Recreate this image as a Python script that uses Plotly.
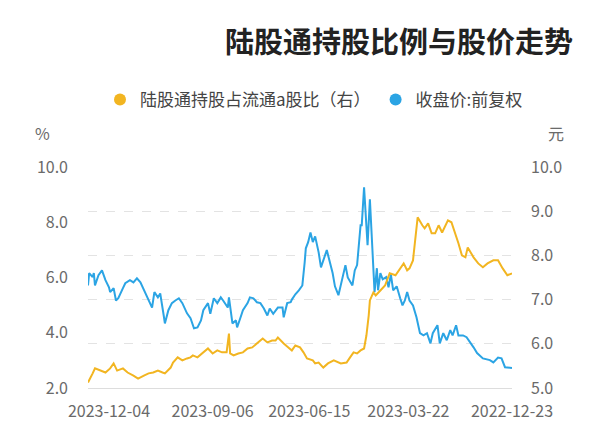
import plotly.graph_objects as go

title_text = "陆股通持股比例与股价走势"
price_name = "收盘价:前复权"
share_name = "陆股通持股占流通a股比（右）"

tick_dates = ["2022-12-23", "2023-03-22", "2023-06-15", "2023-09-06", "2023-12-04"]

price_dates = [
    "2022-12-23", "2022-12-29", "2023-01-01", "2023-01-04", "2023-01-08", "2023-01-11", "2023-01-17",
    "2023-01-22", "2023-01-25", "2023-01-31", "2023-02-03", "2023-02-07", "2023-02-09", "2023-02-12",
    "2023-02-14", "2023-02-17", "2023-02-20", "2023-02-23", "2023-02-25", "2023-03-01", "2023-03-03",
    "2023-03-06", "2023-03-09", "2023-03-12", "2023-03-15", "2023-03-18", "2023-03-21", "2023-03-23",
    "2023-03-25", "2023-03-27", "2023-03-29", "2023-04-01", "2023-04-04", "2023-04-06", "2023-04-08",
    "2023-04-10", "2023-04-13", "2023-04-15", "2023-04-17", "2023-04-18", "2023-04-20", "2023-04-21",
    "2023-04-24", "2023-04-26", "2023-04-29", "2023-05-01", "2023-05-02", "2023-05-05", "2023-05-07",
    "2023-05-09", "2023-05-13", "2023-05-15", "2023-05-18", "2023-05-21", "2023-05-24", "2023-05-26",
    "2023-05-31", "2023-06-03", "2023-06-05", "2023-06-07", "2023-06-10", "2023-06-12", "2023-06-14",
    "2023-06-16", "2023-06-18", "2023-06-19", "2023-06-21", "2023-06-24", "2023-06-27", "2023-06-30",
    "2023-07-01", "2023-07-04", "2023-07-07", "2023-07-08", "2023-07-12", "2023-07-16", "2023-07-19",
    "2023-07-21", "2023-07-24", "2023-07-27", "2023-07-30", "2023-08-02", "2023-08-05", "2023-08-07",
    "2023-08-11", "2023-08-13", "2023-08-16", "2023-08-17", "2023-08-20", "2023-08-23", "2023-08-24",
    "2023-08-28", "2023-08-30", "2023-09-02", "2023-09-05", "2023-09-08", "2023-09-10", "2023-09-14",
    "2023-09-16", "2023-09-19", "2023-09-22", "2023-09-25", "2023-09-28", "2023-10-02", "2023-10-05",
    "2023-10-08", "2023-10-11", "2023-10-14", "2023-10-17", "2023-10-18", "2023-10-21", "2023-10-23",
    "2023-10-26", "2023-10-28", "2023-10-31", "2023-11-03", "2023-11-05", "2023-11-07", "2023-11-10",
    "2023-11-13", "2023-11-16", "2023-11-20", "2023-11-22", "2023-11-26", "2023-11-28", "2023-11-30",
    "2023-12-03", "2023-12-04", "2023-12-07", "2023-12-10", "2023-12-13", "2023-12-16", "2023-12-17",
    "2023-12-18", "2023-12-21", "2023-12-22",
]
price_values = [
    5.45, 5.47, 5.67, 5.69, 5.58, 5.63, 5.67,
    5.79, 5.92, 6.15, 6.19, 6.19, 6.42, 6.19,
    6.31, 6.08, 6.24, 6.01, 6.42, 6.24, 6.01,
    6.24, 6.19, 6.24, 6.60, 6.87, 6.98, 7.17,
    6.98, 6.87, 7.03, 7.30, 7.21, 7.57, 7.28,
    7.51, 7.46, 7.60, 7.21, 7.71, 7.17, 7.66,
    9.27, 8.23, 9.54, 8.68, 8.68, 7.78, 7.66,
    7.32, 7.50, 7.78, 7.44, 7.10, 7.30, 7.60,
    8.12, 7.89, 7.73, 8.07, 8.43, 8.30, 8.52,
    8.30, 8.16, 7.84, 7.32, 7.21, 7.12, 7.00,
    6.94, 6.92, 6.60, 6.82, 6.82, 6.68, 6.80,
    6.64, 6.80, 6.92, 6.94, 7.03, 7.05, 6.92,
    6.76, 6.60, 6.37, 6.53, 6.46, 7.05, 6.82,
    6.98, 7.05, 6.92, 7.03, 6.68, 6.92, 6.76,
    6.53, 6.37, 6.35, 6.58, 6.69, 6.92, 7.03,
    6.98, 6.92, 6.76, 6.46, 6.64, 7.14, 7.05,
    7.17, 6.82, 6.98, 7.17, 7.26, 7.39, 7.48,
    7.39, 7.44, 7.37, 7.26, 7.03, 6.98, 7.26,
    7.17, 7.28, 7.44, 7.66, 7.55, 7.32, 7.60,
    7.51, 7.60, 7.32,
]

share_dates = [
    "2022-12-23", "2022-12-27", "2022-12-31", "2023-01-04", "2023-01-08", "2023-01-13", "2023-01-17",
    "2023-01-21", "2023-01-25", "2023-01-30", "2023-02-01", "2023-02-04", "2023-02-07", "2023-02-10",
    "2023-02-13", "2023-02-16", "2023-02-18", "2023-02-21", "2023-02-24", "2023-02-27", "2023-03-02",
    "2023-03-05", "2023-03-08", "2023-03-10", "2023-03-14", "2023-03-16", "2023-03-18", "2023-03-21",
    "2023-03-23", "2023-03-26", "2023-03-29", "2023-04-02", "2023-04-07", "2023-04-11", "2023-04-15",
    "2023-04-18", "2023-04-19", "2023-04-21", "2023-04-24", "2023-04-25", "2023-04-27", "2023-04-29",
    "2023-05-02", "2023-05-05", "2023-05-08", "2023-05-11", "2023-05-14", "2023-05-19", "2023-05-25",
    "2023-05-30", "2023-06-03", "2023-06-07", "2023-06-10", "2023-06-12", "2023-06-17", "2023-06-20",
    "2023-06-23", "2023-06-27", "2023-06-30", "2023-07-03", "2023-07-07", "2023-07-12", "2023-07-14",
    "2023-07-17", "2023-07-21", "2023-07-25", "2023-07-30", "2023-08-03", "2023-08-07", "2023-08-11",
    "2023-08-15", "2023-08-19", "2023-08-22", "2023-08-23", "2023-08-25", "2023-08-29", "2023-09-02",
    "2023-09-06", "2023-09-10", "2023-09-15", "2023-09-19", "2023-09-23", "2023-09-25", "2023-09-28",
    "2023-10-02", "2023-10-06", "2023-10-10", "2023-10-12", "2023-10-17", "2023-10-19", "2023-10-23",
    "2023-10-27", "2023-10-31", "2023-11-04", "2023-11-09", "2023-11-13", "2023-11-18", "2023-11-22",
    "2023-11-27", "2023-11-30", "2023-12-03", "2023-12-07", "2023-12-11", "2023-12-16", "2023-12-18",
    "2023-12-22",
]
share_values = [
    6.15, 6.08, 6.33, 6.62, 6.62, 6.51, 6.37,
    6.51, 6.73, 7.09, 6.73, 6.80, 7.24, 7.63,
    8.00, 8.07, 7.89, 7.63, 7.89, 7.60, 7.60,
    7.96, 7.78, 7.89, 8.18, 7.34, 6.62, 6.33,
    6.26, 6.51, 6.33, 6.08, 6.15, 5.71, 5.53,
    5.42, 5.35, 5.46, 5.17, 4.63, 3.90, 3.43,
    3.36, 3.25, 3.29, 3.11, 2.92, 2.89, 3.00,
    2.89, 2.74, 2.92, 2.89, 3.00, 3.07, 3.29,
    3.47, 3.54, 3.36, 3.47, 3.61, 3.83, 3.72,
    3.72, 3.65, 3.79, 3.61, 3.47, 3.43, 3.29,
    3.25, 3.18, 3.25, 3.97, 3.29, 3.29, 3.36,
    3.25, 3.43, 3.25, 3.11, 3.18, 3.11, 3.07,
    3.00, 3.11, 2.92, 2.74, 2.53, 2.56, 2.63,
    2.56, 2.53, 2.45, 2.34, 2.45, 2.56, 2.71,
    2.63, 2.89, 2.71, 2.56, 2.63, 2.71, 2.53,
    2.20,
]

blue = "#2ba4e4"
yellow = "#f2b521"
font_family = "Noto Sans CJK SC, Noto Sans, sans-serif"

fig = go.Figure()
fig.add_trace(go.Scatter(x=price_dates, y=price_values, mode="lines", name=price_name,
                         line=dict(color=blue, width=2), yaxis="y", showlegend=False))
fig.add_trace(go.Scatter(x=share_dates, y=share_values, mode="lines", name=share_name,
                         line=dict(color=yellow, width=2), yaxis="y2", showlegend=False))
# legend entries as round dots
fig.add_trace(go.Scatter(x=[None], y=[None], mode="markers", name=share_name,
                         marker=dict(color=yellow, size=10), legendrank=1, yaxis="y2"))
fig.add_trace(go.Scatter(x=[None], y=[None], mode="markers", name=price_name,
                         marker=dict(color=blue, size=10), legendrank=2, yaxis="y"))

fig.update_layout(
    width=600, height=446,
    margin=dict(l=88, r=88, t=167, b=58),
    paper_bgcolor="white", plot_bgcolor="white",
    font=dict(family=font_family, color="#666666", size=16),
    title=dict(text=title_text, xref="container", yref="container",
               x=573 / 600, xanchor="right", y=1 - 43 / 446, yanchor="middle",
               font=dict(size=29, color="#222222", weight="bold", family=font_family)),
    legend=dict(orientation="h", xref="container", yref="container",
                x=314 / 600, xanchor="center", y=1 - 100 / 446, yanchor="middle",
                font=dict(size=17, color="#444444"), itemsizing="constant",
                bgcolor="rgba(0,0,0,0)"),
    xaxis=dict(type="date", range=["2023-12-22", "2022-12-23"],
               tickvals=tick_dates, ticktext=tick_dates,
               showgrid=False, showline=True, linecolor="#dddddd", linewidth=1,
               ticks="", ticklabelstandoff=9, zeroline=False,
               tickfont=dict(size=16, color="#6a6a6a")),
    yaxis=dict(side="right", range=[5, 10], dtick=1, tick0=5, tickformat=".1f",
               showgrid=True, gridcolor="#e3e3e3", griddash="dash", gridwidth=1,
               zeroline=False, showline=False, ticks="", ticklabelstandoff=18,
               tickfont=dict(size=16, color="#6a6a6a")),
    yaxis2=dict(side="left", overlaying="y", range=[2, 10], dtick=2, tick0=2, tickformat=".1f",
                showgrid=False, zeroline=False, showline=False, ticks="", ticklabelstandoff=19,
                tickfont=dict(size=16, color="#6a6a6a")),
    annotations=[
        dict(text="%", xref="paper", yref="paper", x=(42 - 88) / 424, y=(388 - 133) / 221,
             showarrow=False, xanchor="center", yanchor="middle",
             font=dict(size=16, color="#6a6a6a")),
        dict(text="元", xref="paper", yref="paper", x=(556 - 88) / 424, y=(388 - 133) / 221,
             showarrow=False, xanchor="center", yanchor="middle",
             font=dict(size=16, color="#6a6a6a")),
    ],
)

fig.write_html("out.html")
